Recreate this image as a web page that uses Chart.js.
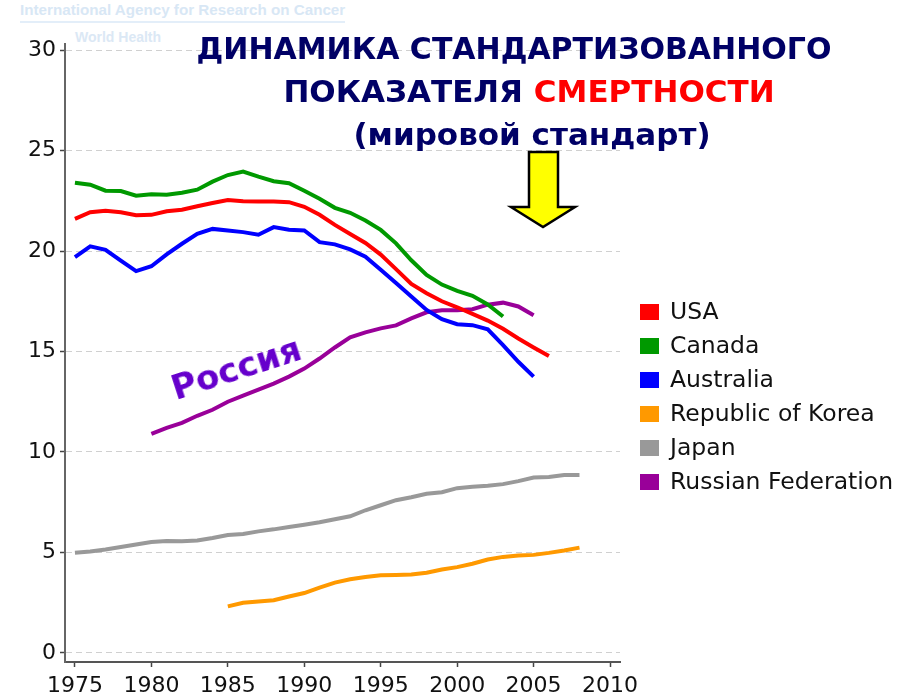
<!DOCTYPE html>
<html lang="ru">
<head>
    <meta charset="UTF-8">
    <title>Динамика стандартизованного показателя смертности</title>
    <script src="https://cdn.jsdelivr.net/npm/chart.js"></script>
    <style>
        body { margin: 0; background: #fff; }
        #wrap { position: relative; width: 922px; height: 698px; overflow: hidden; }
        #chart { position: absolute; left: 0; top: 0; }
        .iarc { position: absolute; left: 20px; top: 1px; font: bold 15.2px "Liberation Sans", Arial, sans-serif; color: #d8e7f5; border-bottom: 2px solid #e3eef9; padding-bottom: 3px; }
        .who { position: absolute; left: 75px; top: 29px; font: bold 14px "Liberation Sans", Arial, sans-serif; color: #dbe8f5; }
        .title { position: absolute; width: 700px; text-align: center; font: bold 30px "DejaVu Sans", sans-serif; color: #000066; white-space: nowrap; }
        .title .red { color: #ff0000; }
        .russia { position: absolute; left: 236px; top: 368px; transform: translate(-50%, -50%) rotate(-18deg); font: bold 34px "DejaVu Sans", sans-serif; color: #6600cc; white-space: nowrap; }
    </style>
</head>
<body>
<div id="wrap">
    <div class="iarc">International Agency for Research on Cancer</div>
    <div class="who">World Health</div>
    <canvas id="chart" width="922" height="698"></canvas>
    <div class="title" style="left:164px; top:31px;">ДИНАМИКА СТАНДАРТИЗОВАННОГО</div>
    <div class="title" style="left:179px; top:73px; font-size:31px;">ПОКАЗАТЕЛЯ <span class="red">СМЕРТНОСТИ</span></div>
    <div class="title" style="left:182px; top:116px; font-size:31px;">(мировой стандарт)</div>
    <div class="russia">Россия</div>
</div>

<script>
    // values, one per year
    const usaValues = [21.6, 21.93, 22.0, 21.93, 21.78, 21.8, 21.98, 22.05, 22.23, 22.39,
        22.54, 22.47, 22.46, 22.46, 22.43, 22.2, 21.8, 21.3, 20.85, 20.4,
        19.82, 19.1, 18.36, 17.9, 17.5, 17.2, 16.87, 16.54, 16.13, 15.65,
        15.2, 14.77];                                   // 1975-2006
    const canadaValues = [23.4, 23.3, 23.0, 22.98, 22.75, 22.82, 22.8, 22.9, 23.05, 23.45,
        23.78, 23.95, 23.7, 23.47, 23.37, 23.0, 22.6, 22.15, 21.9, 21.52,
        21.05, 20.38, 19.54, 18.81, 18.33, 18.02, 17.77, 17.34, 16.74];   // 1975-2003
    const australiaValues = [19.7, 20.23, 20.06, 19.52, 19.0, 19.24, 19.83, 20.36, 20.86, 21.1,
        21.02, 20.94, 20.81, 21.19, 21.06, 21.02, 20.44, 20.33, 20.08, 19.72,
        19.07, 18.41, 17.74, 17.07, 16.61, 16.36, 16.31, 16.1, 15.32, 14.49,
        13.75];                                         // 1975-2005
    const koreaValues = [2.32, 2.5, 2.56, 2.62, 2.81, 2.98, 3.25, 3.5, 3.67, 3.78,
        3.87, 3.88, 3.9, 3.99, 4.15, 4.27, 4.44, 4.65, 4.78, 4.85,
        4.88, 4.98, 5.1, 5.24];                         // 1985-2008
    const japanValues = [4.99, 5.05, 5.15, 5.27, 5.4, 5.52, 5.57, 5.56, 5.6, 5.72,
        5.87, 5.92, 6.05, 6.15, 6.27, 6.38, 6.5, 6.65, 6.8, 7.1,
        7.35, 7.6, 7.75, 7.92, 8.0, 8.2, 8.27, 8.32, 8.4, 8.55,
        8.73, 8.75, 8.85, 8.86];                        // 1975-2008
    const russiaValues = [10.9, 11.2, 11.45, 11.8, 12.1, 12.5, 12.8, 13.1, 13.4, 13.75,
        14.15, 14.65, 15.2, 15.7, 15.95, 16.15, 16.3, 16.65, 16.95, 17.05,
        17.05, 17.1, 17.33, 17.43, 17.24, 16.8];        // 1980-2005

    const seriesNames = ['USA', 'Canada', 'Australia', 'Republic of Korea', 'Japan', 'Russian Federation'];
    const seriesStart = [1975, 1975, 1975, 1985, 1975, 1980];
    const seriesColors = ['#ff0000', '#009900', '#0000ff', '#ff9900', '#999999', '#990099'];
    const xTicks = [1975, 1980, 1985, 1990, 1995, 2000, 2005, 2010];
    const yTicks = [0, 5, 10, 15, 20, 25, 30];

    const allValues = [usaValues, canadaValues, australiaValues, koreaValues, japanValues, russiaValues];

    const datasets = allValues.map((vals, i) => ({
        label: seriesNames[i],
        data: vals.map((v, k) => ({ x: seriesStart[i] + k, y: v })),
        borderColor: seriesColors[i],
        backgroundColor: seriesColors[i],
        borderWidth: 4,
        pointRadius: 0,
        tension: 0,
        fill: false
    }));

    // legend boxes on the right, drawn by hand
    const sideLegend = {
        id: 'sideLegend',
        afterDraw(chart) {
            const ctx = chart.ctx;
            ctx.save();
            ctx.font = '23.5px "DejaVu Sans", sans-serif';
            ctx.textBaseline = 'middle';
            chart.data.datasets.forEach((ds, i) => {
                const y = 312 + i * 34;
                ctx.fillStyle = ds.borderColor;
                ctx.fillRect(640, y - 8, 19, 16);
                ctx.fillStyle = '#111';
                ctx.fillText(ds.label, 670, y + 1);
            });
            ctx.restore();
        }
    };

    // the yellow arrow under the title
    const arrow = {
        id: 'arrow',
        afterDraw(chart) {
            const ctx = chart.ctx;
            ctx.save();
            ctx.beginPath();
            ctx.moveTo(529, 152);
            ctx.lineTo(558, 152);
            ctx.lineTo(558, 207);
            ctx.lineTo(575, 207);
            ctx.lineTo(543, 227);
            ctx.lineTo(511, 207);
            ctx.lineTo(529, 207);
            ctx.closePath();
            ctx.fillStyle = '#ffff00';
            ctx.fill();
            ctx.lineWidth = 2.5;
            ctx.strokeStyle = '#000';
            ctx.stroke();
            ctx.restore();
        }
    };

    new Chart(document.getElementById('chart'), {
        type: 'line',
        data: { datasets: datasets },
        options: {
            responsive: false,
            animation: false,
            layout: { padding: { top: 44, right: 302, left: 0, bottom: 0 } },
            plugins: { legend: { display: false }, tooltip: { enabled: false } },
            scales: {
                x: {
                    type: 'linear',
                    min: 1974.35,
                    max: 2010.65,
                    afterBuildTicks: s => { s.ticks = xTicks.map(v => ({ value: v })); },
                    afterFit: s => { s.height = 36; },
                    grid: { drawOnChartArea: false, drawTicks: true, tickLength: 5, tickColor: '#444', tickWidth: 1.5 },
                    border: { color: '#555', width: 2 },
                    ticks: {
                        autoSkip: false, maxRotation: 0, padding: 6, color: '#111',
                        font: { family: 'DejaVu Sans', size: 22 },
                        callback: v => String(v)
                    }
                },
                y: {
                    min: -0.45,
                    max: 30.3,
                    afterBuildTicks: s => { s.ticks = yTicks.map(v => ({ value: v })); },
                    afterFit: s => { s.width = 65; },
                    grid: { color: '#d0d0d0', lineWidth: 1, tickLength: 5, tickColor: '#444', tickWidth: 1.5 },
                    border: { color: '#666', width: 2, dash: [6, 4] },
                    ticks: {
                        padding: 4, color: '#111',
                        font: { family: 'DejaVu Sans', size: 22 },
                        callback: v => String(v)
                    }
                }
            }
        },
        plugins: [sideLegend, arrow]
    });
</script>
</body>
</html>
